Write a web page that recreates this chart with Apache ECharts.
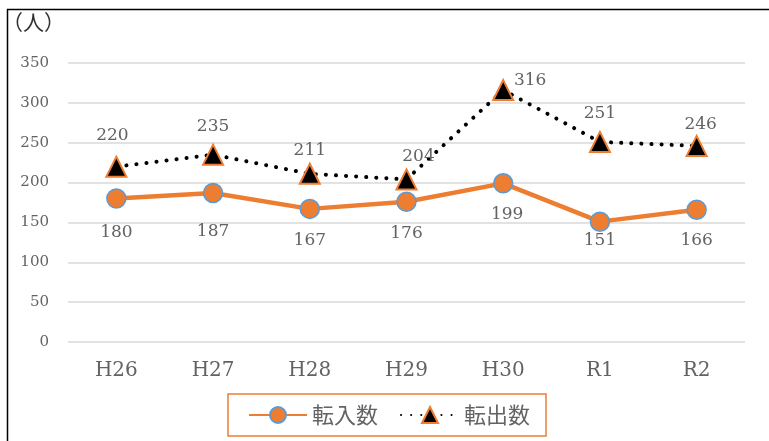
<!DOCTYPE html>
<html>
<head>
<meta charset="utf-8">
<script src="https://cdn.jsdelivr.net/npm/echarts@6/dist/echarts.min.js"></script>
<style>html,body{margin:0;padding:0;background:#fff;}#c{width:769px;height:441px;}</style>
</head>
<body>
<div id="c"></div>
<script>
const categories = ['H26', 'H27', 'H28', 'H29', 'H30', 'R1', 'R2'];
const tennyu = [180, 187, 167, 176, 199, 151, 166];
const tenshutsu = [220, 235, 211, 204, 316, 251, 246];
const yTicks = [0, 50, 100, 150, 200, 250, 300, 350];

const serif = '"DejaVu Serif", "Liberation Serif", serif';
const txt = '#636363';

// label nudges (pixels)
const inOffsets = [[0, 34], [0, 39], [0, 32], [0, 32], [4, 31], [0, 19], [0, 31]];
const outOffsets = [[-4, -31], [0, -28], [0, -23], [12, -23], [27, -10], [0, -28], [4, -21]];

const chart = echarts.init(document.getElementById('c'), null, {renderer: 'canvas'});
chart.setOption({
  animation: false,
  backgroundColor: '#fff',
  grid: {left: 68, right: 24, top: 63, bottom: 99},
  graphic: [
    {type: 'line', shape: {x1: 7.5, y1: 9, x2: 7.5, y2: 441}, style: {stroke: '#000', lineWidth: 1.5}},
    {type: 'line', shape: {x1: 7, y1: 9.5, x2: 769, y2: 9.5}, style: {stroke: '#000', lineWidth: 1.5}},
    {type: 'text', left: 2, top: 12, style: {text: '（人）', font: '21px "Noto Sans CJK JP"', fill: '#333'}}
  ],
  xAxis: {
    type: 'category',
    data: categories,
    boundaryGap: true,
    axisLine: {show: false},
    axisTick: {show: false},
    axisLabel: {color: txt, fontFamily: serif, fontSize: 20, margin: 19}
  },
  yAxis: {
    type: 'value',
    min: yTicks[0],
    max: yTicks[yTicks.length - 1],
    interval: 50,
    axisLine: {show: false},
    axisTick: {show: false},
    axisLabel: {color: txt, fontFamily: serif, fontSize: 15, margin: 19},
    splitLine: {lineStyle: {color: '#d9d9d9', width: 1.5}}
  },
  legend: {
    bottom: 5,
    left: 228,
    itemWidth: 58,
    itemHeight: 20,
    itemGap: 22,
    padding: [10, 16, 10, 20],
    borderColor: '#ED7D31',
    borderWidth: 1.5,
    textStyle: {color: txt, fontSize: 22, fontFamily: '"Noto Sans CJK JP"'},
    data: ['転入数', '転出数']
  },
  series: [
    {
      name: '転入数',
      type: 'line',
      data: tennyu.map((v, i) => ({value: v, label: {offset: inOffsets[i]}})),
      symbol: 'circle',
      symbolSize: 19,
      lineStyle: {color: '#ED7D31', width: 4.5},
      itemStyle: {color: '#ED7D31', borderColor: '#5B9BD5', borderWidth: 1.5},
      label: {show: true, position: 'inside', color: txt, fontFamily: serif, fontSize: 17},
      z: 3
    },
    {
      name: '転出数',
      type: 'line',
      data: tenshutsu.map((v, i) => ({value: v, label: {offset: outOffsets[i]}})),
      symbol: 'triangle',
      symbolSize: 20,
      lineStyle: {color: '#000', width: 4, type: [0.1, 10], cap: 'round'},
      itemStyle: {color: '#000', borderColor: '#ED7D31', borderWidth: 2},
      label: {show: true, position: 'inside', color: txt, fontFamily: serif, fontSize: 17},
      z: 4
    }
  ]
});
</script>
</body>
</html>
